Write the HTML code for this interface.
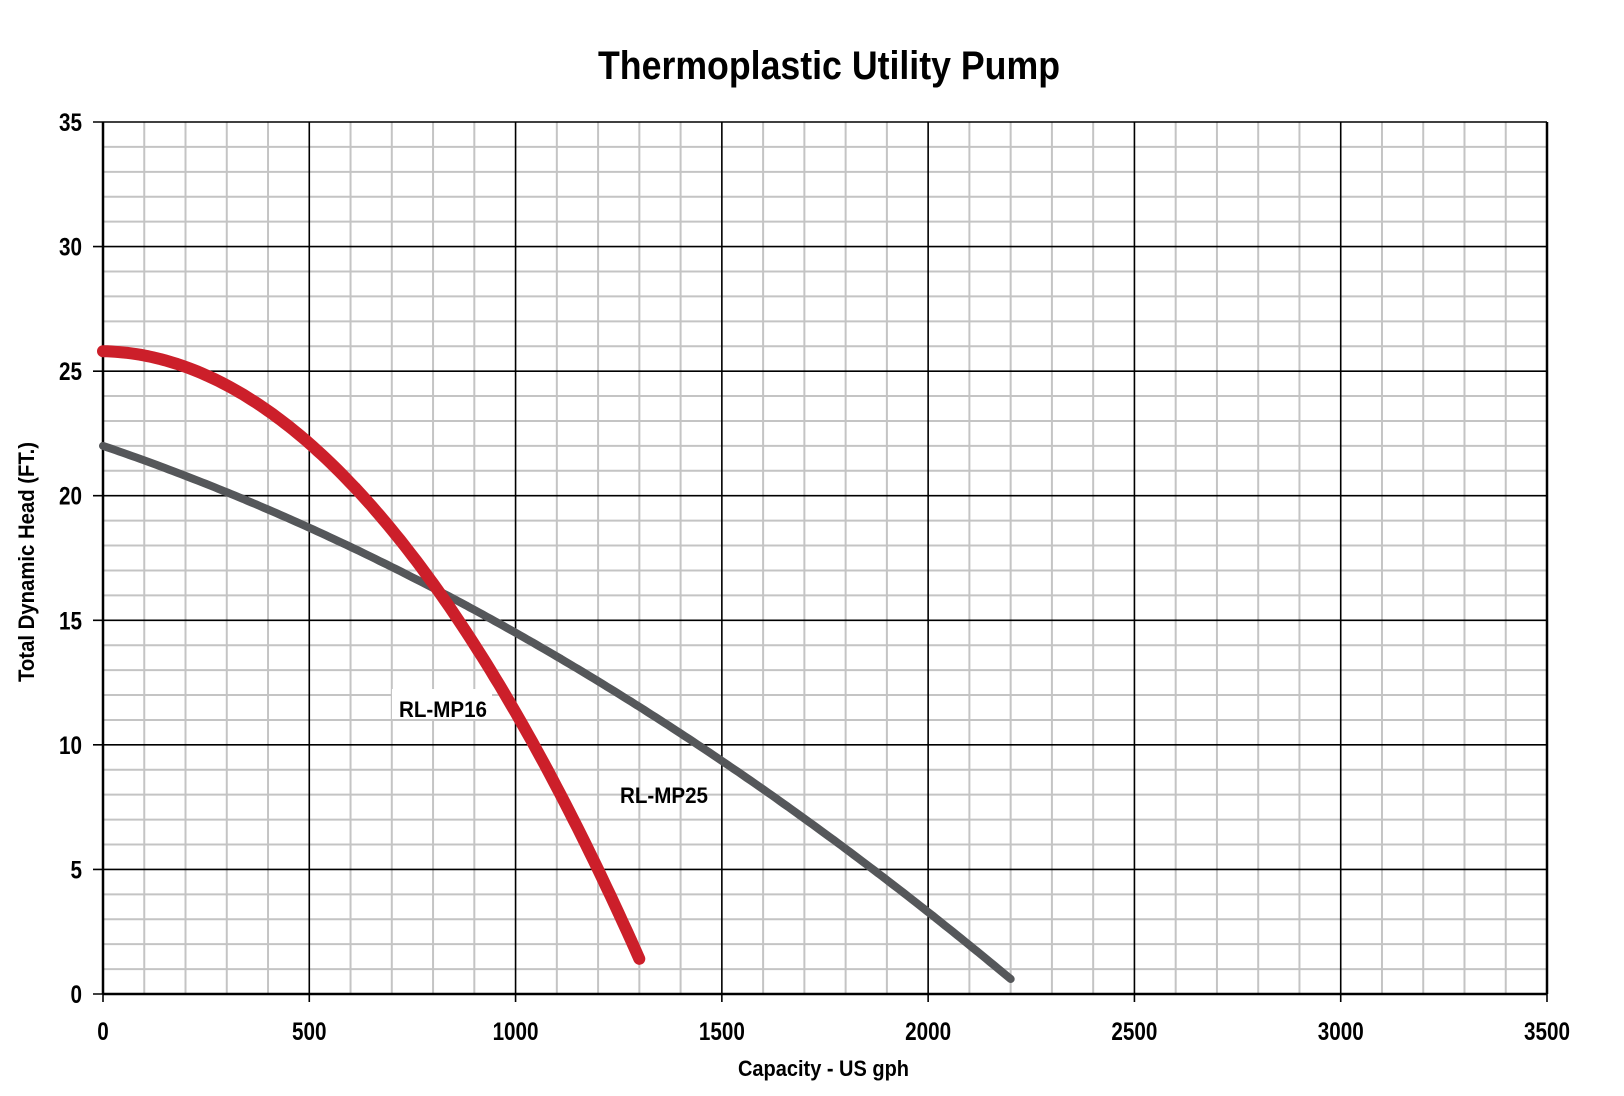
<!DOCTYPE html>
<html><head><meta charset="utf-8"><style>
html,body{margin:0;padding:0;background:#fff;}
svg{display:block;}
text{font-family:"Liberation Sans Narrow","Liberation Sans",sans-serif;font-weight:bold;fill:#000;}
</style></head><body>
<svg id="s" width="1624" height="1096" viewBox="0 0 1624 1096" xmlns="http://www.w3.org/2000/svg">
<g id="grid"></g>
<g id="curves"></g>
<g id="labels"></g>
<text x="598" y="79" font-size="40" textLength="462" lengthAdjust="spacingAndGlyphs">Thermoplastic Utility Pump</text>
<text x="738" y="1076" font-size="22" textLength="171" lengthAdjust="spacingAndGlyphs">Capacity - US gph</text>
<text transform="translate(34,562) rotate(-90)" x="-120" y="0" font-size="22" textLength="240" lengthAdjust="spacingAndGlyphs">Total Dynamic Head (FT.)</text>
<rect x="392" y="689" width="100" height="30" fill="#fff"/>
<text x="399" y="717" font-size="22" textLength="88" lengthAdjust="spacingAndGlyphs">RL-MP16</text>
<text x="620" y="803" font-size="22" textLength="88" lengthAdjust="spacingAndGlyphs">RL-MP25</text>
</svg>
<script>
var X0=103,X1=1547,Y0=994,Y1=122;
function px(v){return X0+v/3500*(X1-X0);}
function py(v){return Y0-v/35*(Y0-Y1);}
var ns="http://www.w3.org/2000/svg",g=document.getElementById('grid'),lb=document.getElementById('labels');
function el(p,t,a){var e=document.createElementNS(ns,t);for(var k in a)e.setAttribute(k,a[k]);p.appendChild(e);return e;}
for(var i=0;i<=35;i++){if(i%5)el(g,'line',{x1:X0,x2:X1,y1:py(i),y2:py(i),stroke:'#c4c4c4','stroke-width':2});}
for(var i=0;i<=35;i++){if(i%5)el(g,'line',{x1:px(i*100),x2:px(i*100),y1:Y1,y2:Y0,stroke:'#c4c4c4','stroke-width':2});}
for(var i=0;i<=7;i++){var y=py(i*5);el(g,'line',{x1:X0-10,x2:X1,y1:y,y2:y,stroke:'#000','stroke-width':1.6});
 var s=String(i*5),w=s.length*11.5;
 var t=el(lb,'text',{x:82-w,y:y+9,'font-size':25,textLength:w,lengthAdjust:'spacingAndGlyphs'});t.textContent=s;}
for(var i=0;i<=7;i++){var x=px(i*500);el(g,'line',{x1:x,x2:x,y1:Y1,y2:Y0+8,stroke:'#000','stroke-width':1.6});
 var s=String(i*500),w=s.length*11.5;
 var t=el(lb,'text',{x:x-w/2,y:1040,'font-size':25,textLength:w,lengthAdjust:'spacingAndGlyphs'});t.textContent=s;}
el(g,'line',{x1:X1,x2:X1,y1:Y1,y2:Y0,stroke:'#000','stroke-width':2.5});
el(g,'line',{x1:X0,x2:X1,y1:Y0,y2:Y0,stroke:'#000','stroke-width':2.5});
el(g,'line',{x1:X0,x2:X0,y1:Y1,y2:Y0,stroke:'#000','stroke-width':2.5});
var c=document.getElementById('curves');
function curve(f,xmax,col,w){var d='';for(var x=0;x<=xmax;x+=10){d+=(x?'L':'M')+px(x).toFixed(1)+','+py(f(x)).toFixed(1);}
 el(c,'path',{d:d,fill:'none',stroke:col,'stroke-width':w,'stroke-linecap':'round','stroke-linejoin':'round'});}
curve(function(x){return 22-0.005644*x-1.856e-6*x*x;},2200,'#55575a',8);
curve(function(x){return 25.8-0.0003*x-1.42e-5*x*x;},1300,'#cc1f2a',12);
</script>
</body></html>
